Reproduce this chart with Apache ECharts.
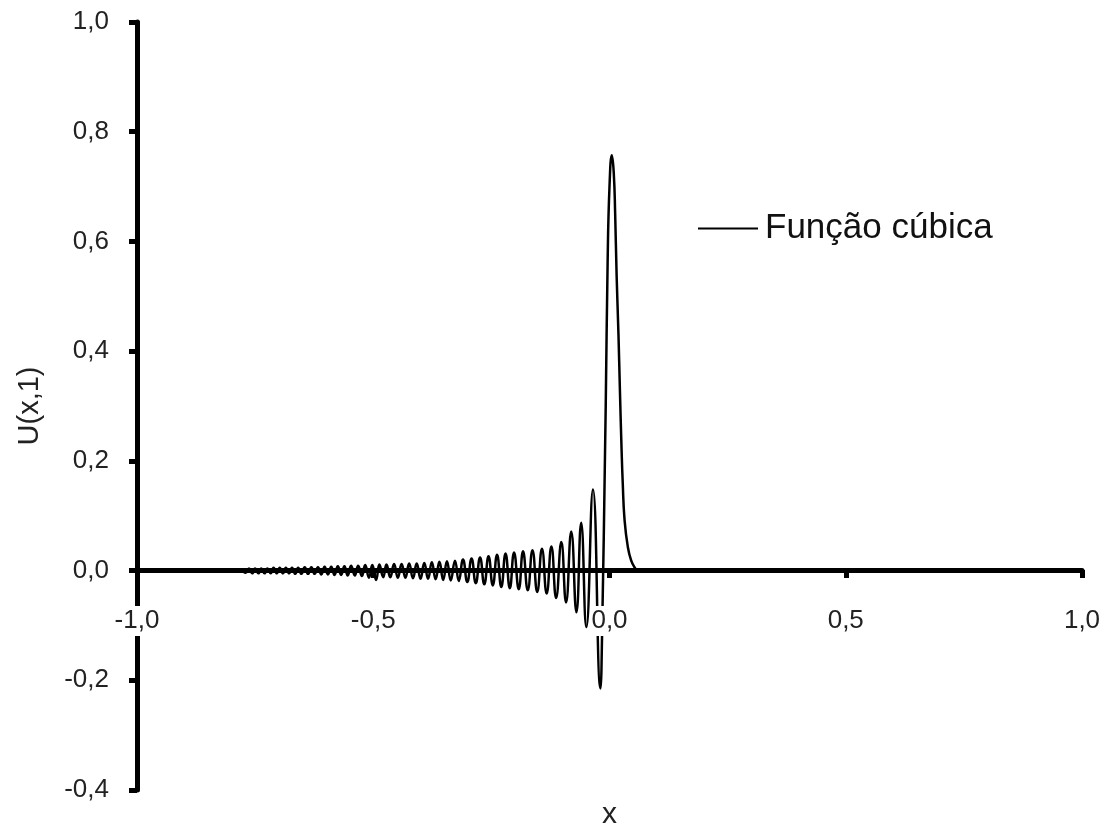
<!DOCTYPE html>
<html>
<head>
<meta charset="utf-8">
<script src="https://cdn.jsdelivr.net/npm/echarts@6/dist/echarts.min.js"></script>
<style>html,body{margin:0;padding:0;background:#fff;}#c{width:1100px;height:827px;}</style>
</head>
<body>
<div id="c"></div>
<script>
// x positions
const xValues = [
  -1.000, -0.780,
  -0.770, -0.763, -0.756, -0.750, -0.743, -0.737, -0.730, -0.724, -0.717, -0.711,
  -0.704, -0.698, -0.691, -0.685, -0.678, -0.672, -0.665, -0.659, -0.652, -0.645,
  -0.638, -0.631, -0.624, -0.617, -0.610, -0.603, -0.596, -0.589, -0.582, -0.575,
  -0.568, -0.561, -0.554, -0.547, -0.539, -0.532, -0.524, -0.517, -0.509, -0.502,
  -0.494, -0.487, -0.479, -0.472, -0.464, -0.456, -0.448,
  -0.440, -0.432, -0.424, -0.416, -0.408, -0.400, -0.392, -0.384, -0.376, -0.368,
  -0.360, -0.352, -0.344, -0.336, -0.327, -0.319, -0.310, -0.301, -0.292, -0.283,
  -0.274, -0.265, -0.256, -0.247, -0.238, -0.229, -0.220, -0.211, -0.202, -0.192,
  -0.183, -0.173, -0.163, -0.153, -0.143, -0.133, -0.123, -0.113, -0.102, -0.092,
  -0.081, -0.070, -0.060, -0.049, -0.035, -0.019,
  -0.017, -0.008, -0.004, 0.000, 0.005, 0.009, 0.012, 0.015, 0.019, 0.022,
  0.025, 0.028, 0.032, 0.039, 0.046, 0.053, 0.060, 1.000
];
// U(x,1) values
const uValues = [
  0, 0,
  -0.004, 0.004, -0.005, 0.004, -0.005, 0.004, -0.005, 0.004, -0.005, 0.005,
  -0.005, 0.005, -0.005, 0.005, -0.005, 0.005, -0.006, 0.005, -0.006, 0.006,
  -0.006, 0.006, -0.006, 0.006, -0.007, 0.007, -0.007, 0.007, -0.008, 0.008,
  -0.008, 0.008, -0.009, 0.009, -0.009, 0.009, -0.010, 0.010, -0.013, 0.010,
  -0.017, 0.011, -0.012, 0.011, -0.012, 0.012, -0.013,
  0.012, -0.013, 0.013, -0.014, 0.013, -0.015, 0.014, -0.015, 0.015, -0.016,
  0.016, -0.017, 0.017, -0.018, 0.018, -0.019, 0.020, -0.021, 0.022, -0.023,
  0.024, -0.025, 0.026, -0.027, 0.029, -0.030, 0.031, -0.032, 0.033, -0.034,
  0.035, -0.036, 0.037, -0.039, 0.040, -0.042, 0.044, -0.050, 0.052, -0.058,
  0.071, -0.076, 0.087, -0.103, 0.148, -0.215,
  -0.180, 0.300, 0.560, 0.700, 0.757, 0.725, 0.650, 0.540, 0.430, 0.330,
  0.237, 0.160, 0.091, 0.042, 0.018, 0.006, 0, 0
];
const seriesName = 'Função cúbica';
const xTicks = [-1.0, -0.5, 0.0, 0.5, 1.0];
const yTicks = [-0.4, -0.2, 0.0, 0.2, 0.4, 0.6, 0.8, 1.0];

const data = xValues.map((x, i) => [x, uValues[i]]);
const fmt = v => v.toFixed(1).replace('.', ',');
const FONT = 'Liberation Sans';

const chart = echarts.init(document.getElementById('c'), null, {renderer: 'canvas'});
chart.setOption({
  backgroundColor: '#ffffff',
  animation: false,
  grid: {left: 137, right: 18, top: 22, bottom: 37, containLabel: false, outerBoundsMode: 'none'},
  legend: {
    left: 698, top: 211, padding: 0,
    icon: 'rect', itemWidth: 60, itemHeight: 2,
    textStyle: {fontFamily: FONT, fontSize: 35, color: '#111', padding: [0, 0, 0, 2]},
    data: [seriesName]
  },
  xAxis: {
    type: 'value', min: xTicks[0], max: xTicks[xTicks.length - 1], interval: 0.5,
    z: 5,
    offset: -220,
    name: 'x', nameLocation: 'middle', nameGap: 230,
    nameTextStyle: {fontFamily: FONT, fontSize: 30, color: '#222'},
    axisLine: {onZero: false, lineStyle: {color: '#000', width: 5}},
    axisTick: {show: true, inside: false, length: 8, lineStyle: {color: '#000', width: 5}},
    axisLabel: {
      margin: 36, fontFamily: FONT, fontSize: 26, color: '#222',
      backgroundColor: '#fff', padding: [2, 0, 2, 0],
      formatter: v => fmt(v)
    },
    splitLine: {show: false}
  },
  yAxis: {
    type: 'value', min: yTicks[0], max: yTicks[yTicks.length - 1], interval: 0.2,
    z: 2,
    name: 'U(x,1)', nameLocation: 'middle', nameGap: 93,
    nameTextStyle: {fontFamily: FONT, fontSize: 29, color: '#222'},
    axisLine: {onZero: false, lineStyle: {color: '#000', width: 5}},
    axisTick: {show: true, inside: false, length: 8, lineStyle: {color: '#000', width: 5}},
    axisLabel: {margin: 28, fontFamily: FONT, fontSize: 26, color: '#222', formatter: v => fmt(v)},
    splitLine: {show: false}
  },
  series: [{
    name: seriesName,
    type: 'line',
    data: data,
    smooth: 0.5,
    showSymbol: false,
    symbol: 'none',
    clip: true,
    z: 3,
    lineStyle: {color: '#000', width: 2.5},
    itemStyle: {color: '#000'}
  }]
});
</script>
</body>
</html>
